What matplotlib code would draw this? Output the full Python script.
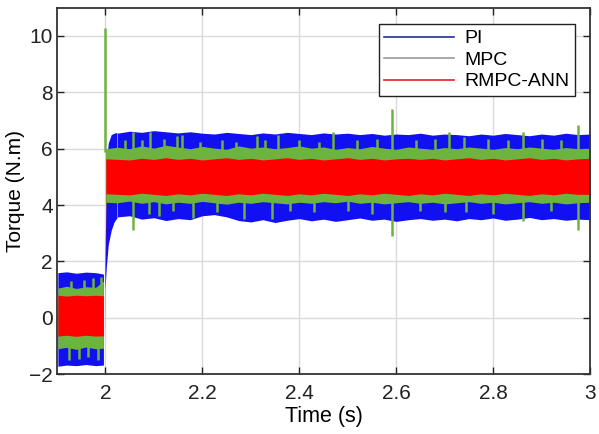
import numpy as np
import matplotlib
matplotlib.use("Agg")
import matplotlib.pyplot as plt
from matplotlib.lines import Line2D

plt.rcParams['font.family'] = ['Liberation Sans', 'DejaVu Sans']

# ---- data: envelopes of the torque bands (N.m) ----
t_pre = [1.902, 1.92, 1.94, 1.96, 1.98, 1.996]
pi_pre_hi = [1.60, 1.63, 1.58, 1.62, 1.60, 1.55]
pi_pre_lo = [-1.72, -1.68, -1.70, -1.66, -1.70, -1.68]
mpc_pre_hi = [1.05, 1.12, 1.04, 1.10, 1.08, 1.30]
mpc_pre_lo = [-1.10, -1.05, -1.12, -1.04, -1.10, -1.08]
rm_pre_hi = [0.80, 0.77, 0.80, 0.78, 0.80, 0.78]
rm_pre_lo = [-0.65, -0.62, -0.66, -0.62, -0.65, -0.64]

# transition / step part for PI
t_step_pi = [1.999, 2.002, 2.006, 2.012, 2.018, 2.024]
pi_step_hi = [1.50, 5.50, 6.20, 6.50, 6.55, 6.58]
pi_step_lo = [1.00, 1.80, 2.60, 3.10, 3.40, 3.55]

t_post = [2.025, 2.05, 2.075, 2.10, 2.125, 2.15, 2.175, 2.20, 2.225, 2.25,
          2.275, 2.30, 2.325, 2.35, 2.375, 2.40, 2.425, 2.45, 2.475, 2.50,
          2.525, 2.55, 2.575, 2.60, 2.625, 2.65, 2.675, 2.70, 2.725, 2.75,
          2.775, 2.80, 2.825, 2.85, 2.875, 2.90, 2.925, 2.95, 2.975, 3.00]
pi_hi = [6.55, 6.62, 6.58, 6.64, 6.60, 6.56, 6.60, 6.55, 6.52, 6.58,
         6.54, 6.50, 6.56, 6.52, 6.58, 6.54, 6.50, 6.56, 6.52, 6.55,
         6.50, 6.54, 6.48, 6.52, 6.50, 6.55, 6.48, 6.52, 6.50, 6.46,
         6.52, 6.48, 6.54, 6.50, 6.46, 6.52, 6.48, 6.55, 6.50, 6.52]
pi_lo = [3.58, 3.62, 3.50, 3.55, 3.45, 3.52, 3.48, 3.62, 3.66, 3.58,
         3.45, 3.40, 3.48, 3.38, 3.46, 3.52, 3.44, 3.50, 3.42, 3.48,
         3.54, 3.46, 3.50, 3.42, 3.48, 3.52, 3.46, 3.50, 3.44, 3.52,
         3.48, 3.54, 3.46, 3.50, 3.56, 3.48, 3.52, 3.46, 3.50, 3.48]
mpc_hi = [6.05, 6.00, 6.10, 6.02, 6.12, 6.06, 6.00, 6.08, 6.02, 5.98,
          6.10, 6.02, 6.06, 6.00, 6.04, 6.10, 6.02, 6.06, 5.98, 6.04,
          6.00, 6.08, 6.02, 5.98, 6.06, 6.02, 5.98, 6.04, 6.00, 6.06,
          6.02, 5.98, 6.04, 6.00, 6.06, 6.02, 5.98, 6.04, 6.00, 6.02]
mpc_lo = [4.08, 4.14, 4.06, 4.12, 4.04, 4.10, 4.06, 4.13, 4.08, 4.03,
          4.10, 4.06, 4.12, 4.08, 4.04, 4.10, 4.06, 4.12, 4.08, 4.14,
          4.06, 4.10, 4.04, 4.08, 4.12, 4.06, 4.10, 4.04, 4.08, 4.12,
          4.06, 4.10, 4.04, 4.08, 4.12, 4.06, 4.10, 4.04, 4.08, 4.10]
rm_hi = [5.64, 5.60, 5.66, 5.62, 5.68, 5.62, 5.66, 5.60, 5.64, 5.68,
         5.62, 5.66, 5.60, 5.64, 5.68, 5.62, 5.66, 5.60, 5.64, 5.68,
         5.62, 5.66, 5.60, 5.64, 5.66, 5.62, 5.66, 5.60, 5.64, 5.68,
         5.62, 5.66, 5.60, 5.64, 5.68, 5.62, 5.66, 5.60, 5.64, 5.66]
rm_lo = [4.40, 4.36, 4.42, 4.38, 4.34, 4.40, 4.36, 4.42, 4.38, 4.34,
         4.40, 4.36, 4.42, 4.38, 4.34, 4.40, 4.36, 4.42, 4.38, 4.34,
         4.40, 4.36, 4.42, 4.38, 4.34, 4.40, 4.36, 4.42, 4.38, 4.34,
         4.40, 4.36, 4.42, 4.38, 4.34, 4.40, 4.36, 4.42, 4.38, 4.38]

# MPC spikes: (time, peak value)
mpc_up_t = [2.000, 2.040, 2.057, 2.075, 2.092, 2.120, 2.147, 2.159, 2.195,
            2.240, 2.270, 2.312, 2.330, 2.357, 2.400, 2.440, 2.469, 2.520,
            2.560, 2.592, 2.640, 2.680, 2.710, 2.740, 2.790, 2.830, 2.861,
            2.900, 2.940, 2.976]
mpc_up_v = [10.30, 6.30, 6.60, 6.30, 6.60, 6.35, 6.45, 6.50, 6.25,
            6.30, 6.25, 6.45, 6.30, 6.50, 6.30, 6.25, 6.60, 6.30,
            6.35, 7.40, 6.30, 6.35, 6.60, 6.40, 6.35, 6.30, 6.60,
            6.35, 6.30, 6.85]
mpc_dn_t = [2.057, 2.090, 2.110, 2.140, 2.180, 2.230, 2.286, 2.343, 2.380,
            2.430, 2.500, 2.550, 2.592, 2.650, 2.700, 2.745, 2.800, 2.861,
            2.920, 2.976]
mpc_dn_v = [3.10, 3.70, 3.60, 3.80, 3.55, 3.75, 3.50, 3.50, 3.80,
            3.75, 3.80, 3.70, 2.90, 3.80, 3.75, 3.75, 3.70, 3.45,
            3.80, 3.10]
mpc_pre_up_t = [1.930, 1.955, 1.975, 1.990]
mpc_pre_up_v = [1.30, 1.35, 1.40, 1.45]
mpc_pre_dn_t = [1.925, 1.945, 1.965, 1.985]
mpc_pre_dn_v = [-1.50, -1.45, -1.40, -1.50]

# ---- style ----
c_pi = '#1010F0'
c_mpc = '#6DB33F'
c_rm = '#FF0000'

fig = plt.figure(figsize=(5.99, 4.34), dpi=100)
ax = fig.add_axes([0.095, 0.138, 0.890, 0.844])

# PI band
ax.fill_between(t_pre, pi_pre_lo, pi_pre_hi, color=c_pi, lw=0)
ax.fill_between(t_step_pi, pi_step_lo, pi_step_hi, color=c_pi, lw=0)
ax.fill_between(t_post, pi_lo, pi_hi, color=c_pi, lw=0)

# MPC band
ax.fill_between(t_pre, mpc_pre_lo, mpc_pre_hi, color=c_mpc, lw=0)
ax.fill_between(t_post, mpc_lo, mpc_hi, color=c_mpc, lw=0)
ax.fill_between([2.0, t_post[0]], [4.1, mpc_lo[0]], [6.0, mpc_hi[0]], color=c_mpc, lw=0)
ax.vlines(mpc_up_t, 5.9, mpc_up_v, color=c_mpc, lw=1.8)
ax.vlines(mpc_dn_t, mpc_dn_v, 4.2, color=c_mpc, lw=1.8)
ax.vlines(mpc_pre_up_t, 1.0, mpc_pre_up_v, color=c_mpc, lw=1.8)
ax.vlines(mpc_pre_dn_t, mpc_pre_dn_v, -1.0, color=c_mpc, lw=1.8)

# RMPC-ANN band
ax.fill_between(t_pre, rm_pre_lo, rm_pre_hi, color=c_rm, lw=0)
ax.fill_between([1.9995, 2.001], [rm_pre_lo[-1], rm_lo[0]], [rm_pre_hi[-1], rm_hi[0]], color=c_rm, lw=0)
ax.fill_between([2.001] + t_post[1:], [rm_lo[0]] + rm_lo[1:], [rm_hi[0]] + rm_hi[1:], color=c_rm, lw=0)

ax.set_xlim(1.9, 3.0)
ax.set_ylim(-2, 11)
ax.set_xticks([2.0, 2.2, 2.4, 2.6, 2.8, 3.0])
ax.set_xticklabels(['2', '2.2', '2.4', '2.6', '2.8', '3'])
ax.set_yticks([-2, 0, 2, 4, 6, 8, 10])
ax.grid(True, color='#DADADA', lw=1)
ax.set_axisbelow(True)
ax.tick_params(direction='in', top=True, right=True, length=5, width=1,
               labelsize=15, colors='#222222')
ax.tick_params(axis='x', pad=7)
ax.tick_params(axis='y', pad=3)
for s in ax.spines.values():
    s.set_linewidth(1.3)
    s.set_color('#333333')

ax.set_xlabel('Time (s)', fontsize=15.5, labelpad=2)
ax.set_ylabel('Torque (N.m)', fontsize=15, labelpad=3)

handles = [Line2D([], [], color='#2A2A9A', lw=1.2),
           Line2D([], [], color='#9A9A9A', lw=1.2),
           Line2D([], [], color='#E02020', lw=1.2)]
leg = ax.legend(handles, ['PI', 'MPC', 'RMPC-ANN'], loc='upper right',
                bbox_to_anchor=(0.972, 0.956), fontsize=14, fancybox=False,
                framealpha=1, edgecolor='#222222', handlelength=3.6,
                handletextpad=0.5, borderpad=0.3, labelspacing=0.2,
                borderaxespad=0)
leg.get_frame().set_linewidth(1.0)

fig.savefig('out.png', dpi=100)
